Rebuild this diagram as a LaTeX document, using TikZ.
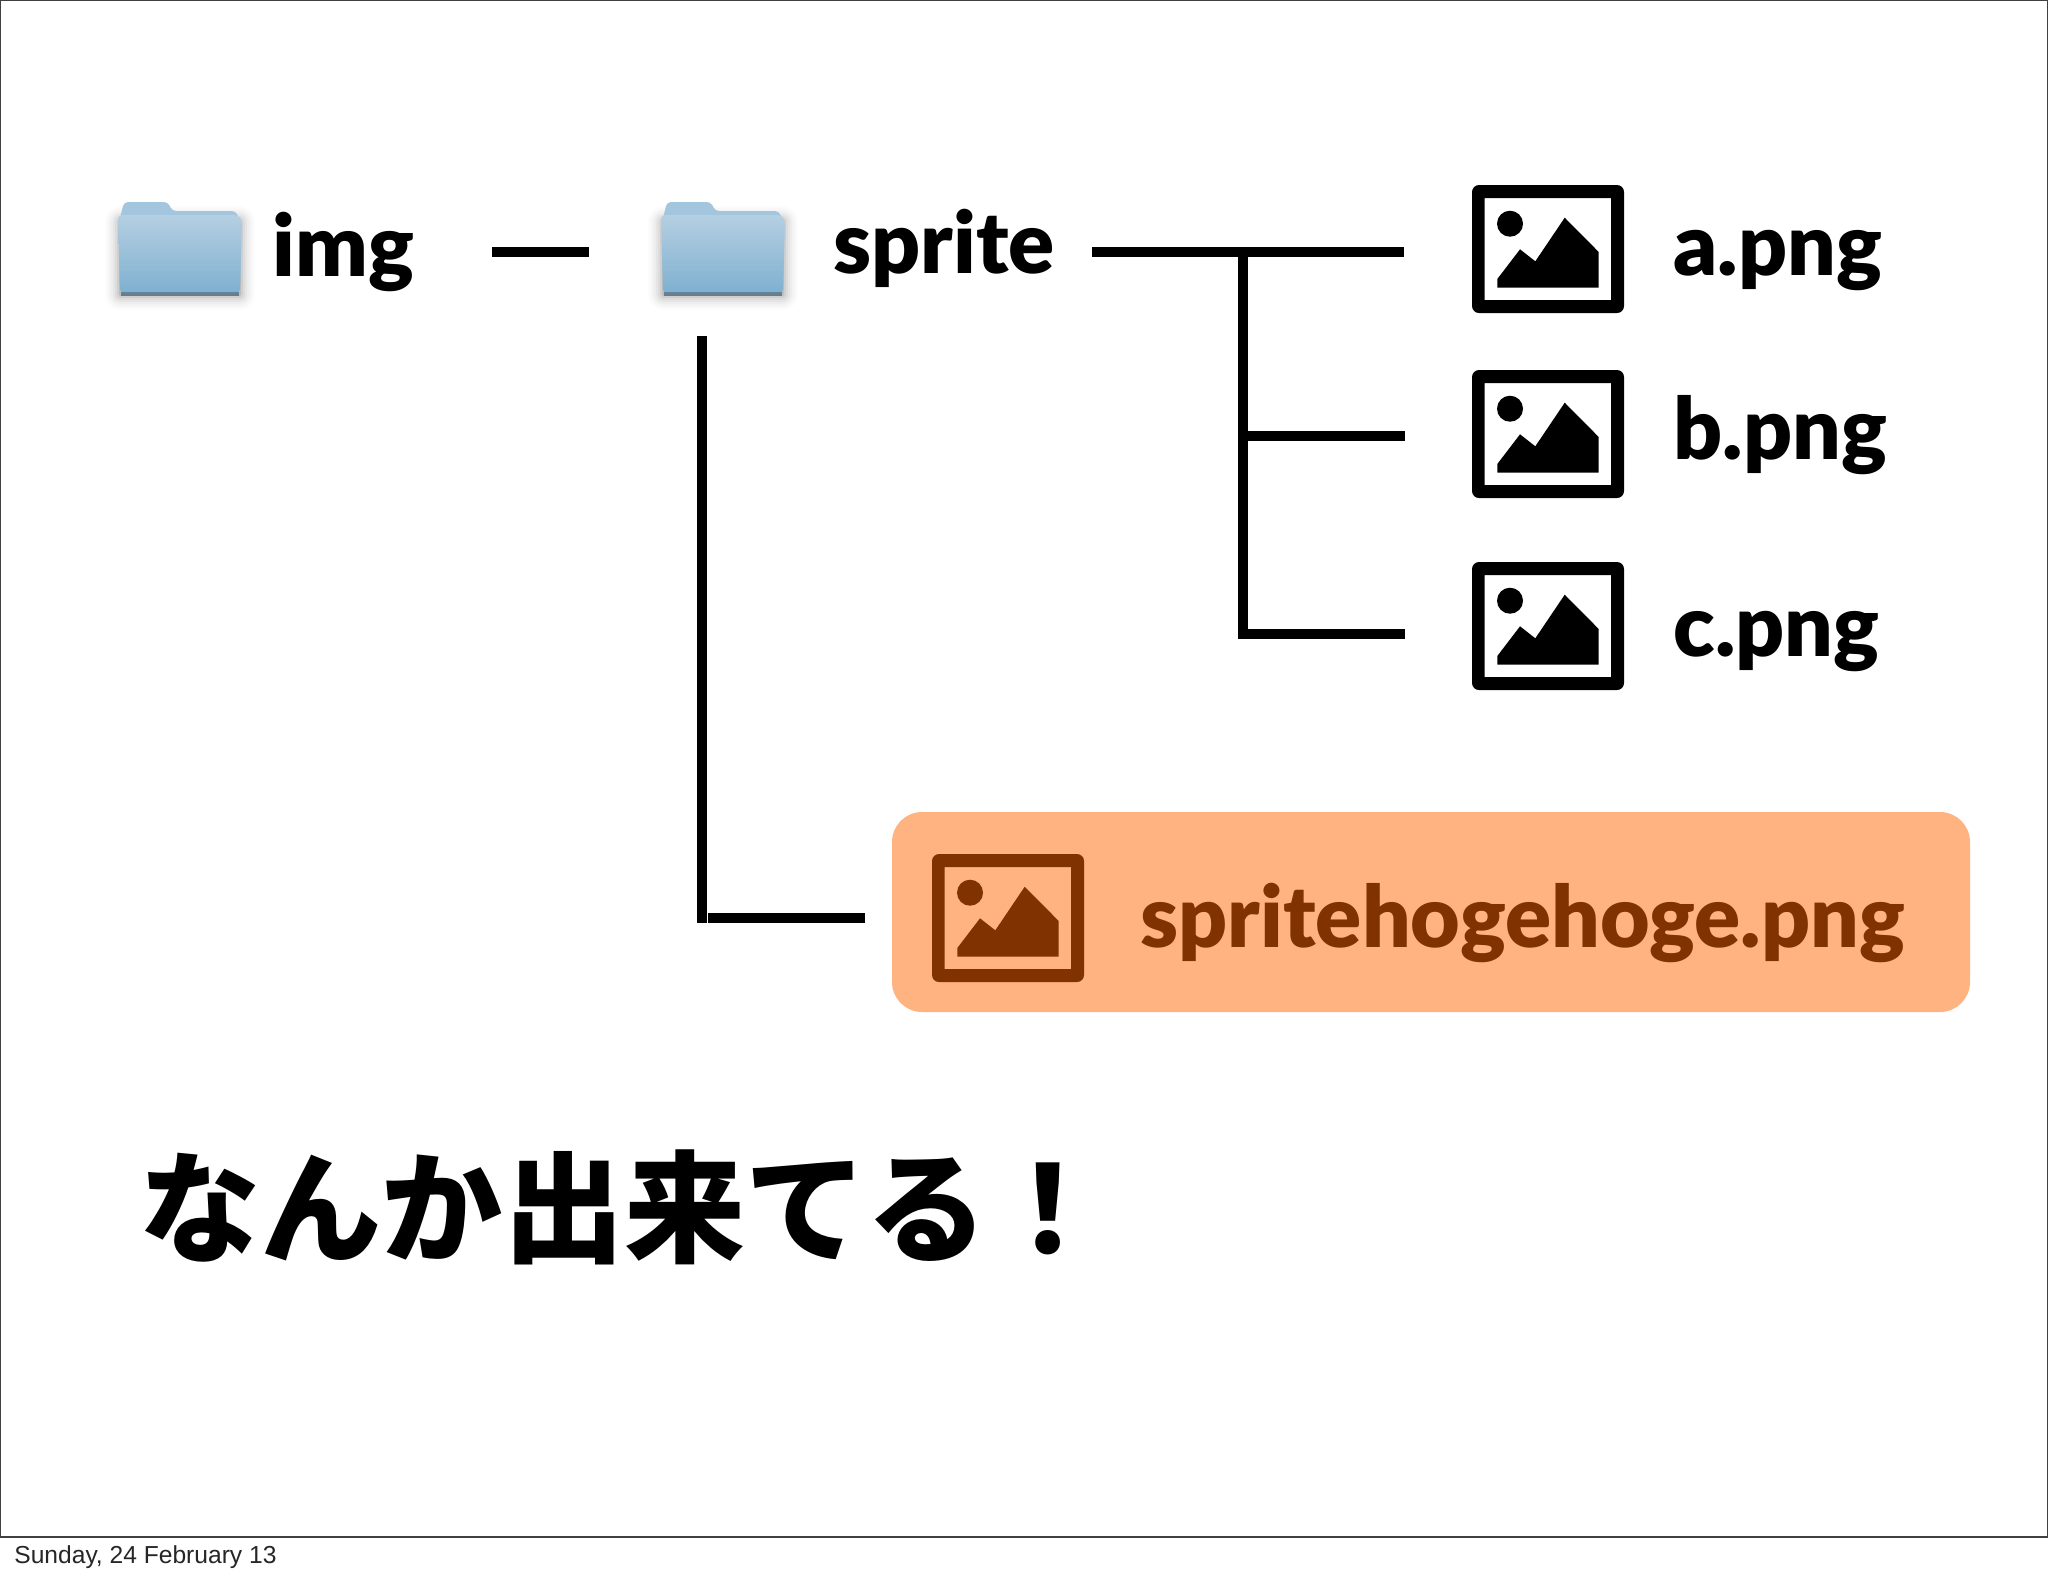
\documentclass[tikz,border=0pt]{standalone}
\usepackage{fontspec}
\setmainfont{Lato}
\newfontfamily\labelfont{Lato Black}
\newfontfamily\cjkfont{Noto Sans CJK JP Black}
\newfontfamily\datefont{Liberation Sans}
\definecolor{orangebox}{HTML}{FFB380}
\definecolor{rust}{HTML}{803300}
\definecolor{foldertop}{HTML}{B5CFE2}
\definecolor{folderbot}{HTML}{7FB0D0}
\definecolor{foldertab}{HTML}{A3C6DE}
\tikzset{
  x=0.5pt,y=-0.5pt,
  conn/.style={draw=black,line width=5pt,line cap=butt},
  filename/.style={anchor=base west,inner sep=0pt,font=\labelfont\fontsize{42.8}{42.8}\selectfont},
  pics/picicon/.style={code={
    \fill[#1,rounded corners=3.5pt,even odd rule]
      (0,0) rectangle (152,128)
      [sharp corners] (12.7,13) rectangle (139,115);
    \fill[#1] (38,38.7) circle[radius=13];
    \fill[#1] (25.3,94) -- (48,64.3) -- (63.3,76.3) -- (92.7,32.7) -- (126.7,67) -- (126.7,102.7) -- (25.3,102.7) -- cycle;
  }},
  pics/foldericon/.style={code={
    \foreach \g/\o in {32/0.012,28/0.015,24/0.02,20/0.025,16/0.03,12/0.04,8/0.06,4/0.08}{
      \draw[black,opacity=\o,line width=\g*0.5pt,line join=round,fill=none]
        (3,20) -- (121,20) -- (121,92) -- (3,92) -- cycle;
    }
    \fill[foldertab,rounded corners=2pt] (1,20) -- (6,0) -- (50,0) -- (54,9) -- (118,9) -- (122,20) -- cycle;
    \shade[top color=foldertop,bottom color=folderbot,rounded corners=2pt]
      (0,13) -- (120,13) -- (124,18) -- (122,91) -- (2,91) -- cycle;
    \fill[black!25!folderbot] (3,90) rectangle (121,92);
    \fill[black!45!folderbot,opacity=0.7] (3,92) rectangle (121,94);
  }},
}
\begin{document}
\begin{tikzpicture}
\useasboundingbox (0,0) rectangle (2048,1576);
\fill[white] (0,0) rectangle (2048,1576);
\draw[black!75,line width=0.7pt] (0.5,0.5) -- (2047.5,0.5) -- (2047.5,1537) -- (0.5,1537) -- cycle;
\node[anchor=base west,inner sep=0pt,font=\datefont\fontsize{12.3}{12.3}\selectfont,text=black!85] (date) at (14,1563) {Sunday, 24 February 13};

\pic at (118,202) {foldericon};
\pic at (661,202) {foldericon};
\node[filename] (img) at (272,276) {img};
\node[filename] (sprite) at (833,273) {sprite};

\pic at (1472,185) {picicon={black}};
\pic at (1472,370) {picicon={black}};
\pic at (1472,562) {picicon={black}};
\node[filename] (a) at (1673,275) {a.png};
\node[filename] (b) at (1673,459) {b.png};
\node[filename] (c) at (1673,656) {c.png};

\fill[orangebox,rounded corners=15pt] (892,812) rectangle (1970,1012);
\pic at (932,854) {picicon={rust}};
\node[filename,text=rust] (out) at (1140,947) {spritehogehoge.png};

\coordinate (l1a) at (492,252); \coordinate (l1b) at (589,252);
\coordinate (l2a) at (1092,252); \coordinate (l2b) at (1404,252);
\coordinate (l3a) at (1243,252); \coordinate (l3c) at (1243,634);
\coordinate (l3d) at (1405,634); \coordinate (l4a) at (1243,436); \coordinate (l4b) at (1405,436);
\coordinate (l5a) at (702,336); \coordinate (l5b) at (702,923);
\coordinate (l6a) at (708,918); \coordinate (l6b) at (865,918);
\draw[conn] (l1a) -- (l1b);
\draw[conn] (l2a) -- (l2b);
\draw[conn,line join=miter] (l3a) -- (l3c) -- (l3d);
\draw[conn] (l4a) -- (l4b);
\draw[conn] (l5a) -- (l5b);
\draw[conn] (l6a) -- (l6b);

\node[anchor=base west,inner sep=0pt,font=\cjkfont\fontsize{60.6}{60.6}\selectfont] (msg) at (139,1253) {なんか出来てる！};
\end{tikzpicture}
\end{document}
